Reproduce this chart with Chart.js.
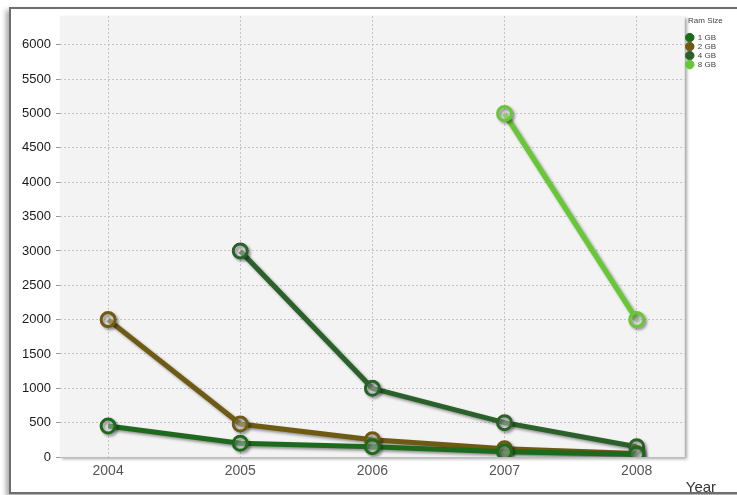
<!DOCTYPE html>
<html>
<head>
<meta charset="utf-8">
<script src="https://cdn.jsdelivr.net/npm/chart.js@4"></script>
<style>
  html, body { margin: 0; padding: 0; background: #fff; overflow: hidden; }
  #frame {
    position: absolute; left: 9px; top: 7px; width: 740px; height: 483px;
    border: 2px solid #6e6e6e; box-shadow: -3px 3px 5px rgba(0,0,0,0.35);
    background: #fff;
  }
  #wrap { position: absolute; left: 0; top: 0; width: 737px; height: 495px; }
</style>
</head>
<body>
<div id="frame"></div>
<div id="wrap"><canvas id="ramChart" width="737" height="495"></canvas></div>
<script>
  const years = [2004, 2005, 2006, 2007, 2008];
  const yTicks = [0, 500, 1000, 1500, 2000, 2500, 3000, 3500, 4000, 4500, 5000, 5500, 6000];
  const ramLabels = ['1 GB', '2 GB', '4 GB', '8 GB'];
  const ram1 = [450, 200, 150, 75, 40];
  const ram2 = [2000, 480, 250, 120, 50];
  const ram4 = [null, 3000, 1000, 500, 150];
  const ram8 = [null, null, null, 5000, 2000];
  const colors = ['#1d6a1d', '#6e5a12', '#2a612a', '#66c833'];

  const seriesList = [ram1, ram2, ram4, ram8];
  const datasets = seriesList.map((values, i) => ({
    label: ramLabels[i],
    data: values.map((v, j) => ({ x: years[j], y: v })),
    borderColor: colors[i],
    backgroundColor: colors[i],
    borderWidth: 5,
    pointRadius: 7,
    pointHoverRadius: 7,
    pointBorderWidth: 3,
    pointBackgroundColor: 'rgba(255,255,255,0.35)',
    pointBorderColor: colors[i],
    spanGaps: false,
    tension: 0
  }));

  // 背景とシャドウ
  const plotBg = {
    id: 'plotBg',
    beforeDraw(chart) {
      const { ctx, chartArea: a } = chart;
      ctx.save();
      ctx.shadowColor = 'rgba(0,0,0,0.35)';
      ctx.shadowOffsetX = 2;
      ctx.shadowOffsetY = 2;
      ctx.shadowBlur = 3;
      ctx.fillStyle = '#f3f3f3';
      ctx.fillRect(a.left, a.top, a.right - a.left, a.bottom - a.top);
      ctx.restore();
    },
    beforeDatasetsDraw(chart) {
      const ctx = chart.ctx;
      ctx.save();
      ctx.shadowColor = 'rgba(0,0,0,0.4)';
      ctx.shadowOffsetX = 2;
      ctx.shadowOffsetY = 2;
      ctx.shadowBlur = 3;
    },
    afterDatasetsDraw(chart) {
      chart.ctx.restore();
    },
    afterDraw(chart) {
      const { ctx, chartArea: a } = chart;
      ctx.save();
      ctx.font = '15px "Liberation Sans", Arial, sans-serif';
      ctx.fillStyle = '#333';
      ctx.textAlign = 'left';
      ctx.textBaseline = 'alphabetic';
      ctx.fillText('Year', a.right + 1, 492);
      ctx.restore();
    }
  };

  const ctx = document.getElementById('ramChart').getContext('2d');
  const ramChart = new Chart(ctx, {
    type: 'line',
    data: { datasets: datasets },
    plugins: [plotBg],
    options: {
      responsive: false,
      animation: false,
      layout: { padding: { left: 0, top: 16, right: 11, bottom: 0 } },
      plugins: {
        tooltip: { enabled: false },
        legend: {
          position: 'right',
          align: 'start',
          title: {
            display: true,
            text: 'Ram Size',
            color: '#444',
            font: { size: 8, family: '"Liberation Sans", Arial, sans-serif' },
            padding: { top: 1, bottom: 6 }
          },
          labels: {
            boxWidth: 8,
            boxHeight: 6,
            padding: 1,
            color: '#444',
            font: { size: 8, family: '"Liberation Sans", Arial, sans-serif' },
            usePointStyle: true,
            generateLabels(chart) {
              return chart.data.datasets.map((ds, i) => ({
                text: ds.label,
                fillStyle: colors[i],
                strokeStyle: colors[i],
                lineWidth: 1,
                pointStyle: 'circle',
                fontColor: '#444',
                datasetIndex: i
              }));
            }
          }
        }
      },
      scales: {
        x: {
          type: 'linear',
          min: 2003.636,
          max: 2008.364,
          afterBuildTicks(scale) {
            scale.ticks = years.map(y => ({ value: y }));
          },
          afterFit(scale) { scale.height = 38; },
          border: { color: '#bbbbbb', dash: [2, 2] },
          grid: { color: '#c4c4c4', drawTicks: false },
          ticks: {
            padding: 6,
            color: '#555',
            font: { size: 14, family: '"Liberation Sans", Arial, sans-serif' },
            callback: v => String(v)
          }
        },
        y: {
          min: 0,
          max: 6420,
          afterBuildTicks(scale) {
            scale.ticks = yTicks.map(v => ({ value: v }));
          },
          afterFit(scale) { scale.width = 60; },
          border: { display: false, dash: [2, 2] },
          grid: { color: '#c4c4c4', tickLength: 4, tickColor: '#999' },
          ticks: {
            padding: 5,
            color: '#1a1a1a',
            font: { size: 13, family: '"Liberation Sans", Arial, sans-serif' },
            callback: v => String(v)
          }
        }
      }
    }
  });
</script>
</body>
</html>
